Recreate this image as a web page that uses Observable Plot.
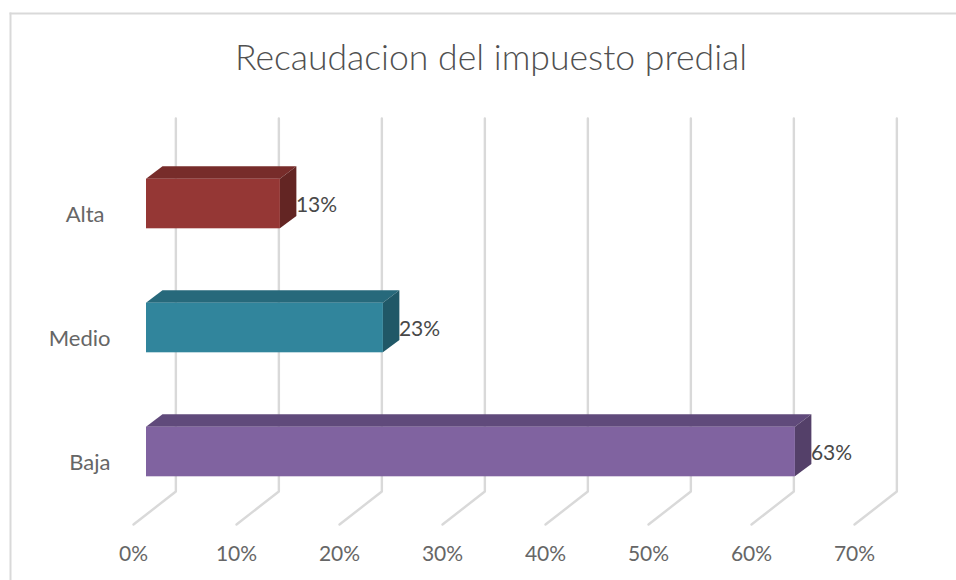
<!DOCTYPE html>
<html>
<head>
<meta charset="utf-8">
<script src="https://cdn.jsdelivr.net/npm/d3@7"></script>
<script src="https://cdn.jsdelivr.net/npm/@observablehq/plot@0.6"></script>
<style>html,body{margin:0;padding:0;background:#fff}svg{display:block}</style>
</head>
<body>
<div id="chart"></div>
<script>
const titleText = "Recaudacion del impuesto predial";
const categories = ["Baja", "Medio", "Alta"];
const values = [63, 23, 13];
const frontColors = ["#8063a0", "#31859c", "#953735"];
const topColors = ["#604a7b", "#27697b", "#772c2a"];
const sideColors = ["#544069", "#205867", "#632523"];
const xTicks = [0, 10, 20, 30, 40, 50, 60, 70];

const font = "Lato, 'Open Sans', sans-serif";
const halfBar = 0.2, depthX = 1.6, depthY = 0.1;
const gridTop = 2.69, gridBottom = -0.3185, floorFront = -0.585;
const backX = 2.85, frontX = -1.26;

const bars = categories.map((name, i) => ({
  name, pos: i, value: values[i],
  front: frontColors[i], top: topColors[i], side: sideColors[i]
}));
const grid = xTicks.flatMap(t => [
  {t, x: t + backX, y: gridTop},
  {t, x: t + backX, y: gridBottom},
  {t, x: t + frontX, y: floorFront}
]);
const nameOf = d => categories[d];

const chart = Plot.plot({
  width: 956, height: 580,
  marginTop: 13, marginLeft: 10, marginRight: 0, marginBottom: 0,
  style: {fontFamily: font, background: "#fff"},
  x: {domain: [0, 70], range: [146, 867], axis: null},
  y: {domain: [-1, 3], range: [575.5, 79.5], axis: null},
  marks: [
    Plot.frame({anchor: "left", stroke: "#d9d9d9", strokeWidth: 2}),
    Plot.frame({anchor: "top", stroke: "#d9d9d9", strokeWidth: 2}),
    Plot.line(grid, {x: "x", y: "y", z: "t", stroke: "#d9d9d9", strokeWidth: 2.4, curve: "linear"}),
    ...bars.flatMap(d => [
      Plot.area([
        {x1: 0, y1: d.pos + halfBar, x2: depthX, y2: d.pos + halfBar + depthY},
        {x1: d.value, y1: d.pos + halfBar, x2: d.value + depthX, y2: d.pos + halfBar + depthY}
      ], {x1: "x1", y1: "y1", x2: "x2", y2: "y2", fill: d.top}),
      Plot.area([
        {x1: d.value, y1: d.pos + halfBar, x2: d.value + depthX, y2: d.pos + halfBar + depthY},
        {x1: d.value, y1: d.pos - halfBar, x2: d.value + depthX, y2: d.pos - halfBar + depthY}
      ], {x1: "x1", y1: "y1", x2: "x2", y2: "y2", fill: d.side})
    ]),
    Plot.rect(bars, {x1: () => 0, x2: "value", y1: d => d.pos - halfBar, y2: d => d.pos + halfBar, fill: "front", inset: 0}),
    Plot.text(bars, {
      x: d => d.value + depthX, y: "pos", text: d => `${d.value}%`,
      textAnchor: "start", fontSize: 21, fill: "#484848", dy: 1.5, dx: -1
    }),
    Plot.axisX({ticks: xTicks, tickSize: 0, tickPadding: 0, dx: -13, dy: -34, anchor: "bottom", tickFormat: d => `${d}%`, fontSize: 21, fill: "#666666", label: null}),
    Plot.axisY({ticks: [0, 1], tickSize: 0, tickPadding: 0, dx: 100, dy: 11, anchor: "left", tickFormat: nameOf, fontSize: 22, fill: "#666666", label: null}),
    Plot.axisY({ticks: [2], tickSize: 0, tickPadding: 0, dx: 94, dy: 11, anchor: "left", tickFormat: nameOf, fontSize: 22, fill: "#666666", label: null}),
    Plot.text([titleText], {x: () => 33.45, y: () => 3.17, text: d => d, fontSize: 35.6, fontWeight: 300, fill: "#505050"})
  ]
});
document.getElementById("chart").append(chart);
</script>
</body>
</html>
